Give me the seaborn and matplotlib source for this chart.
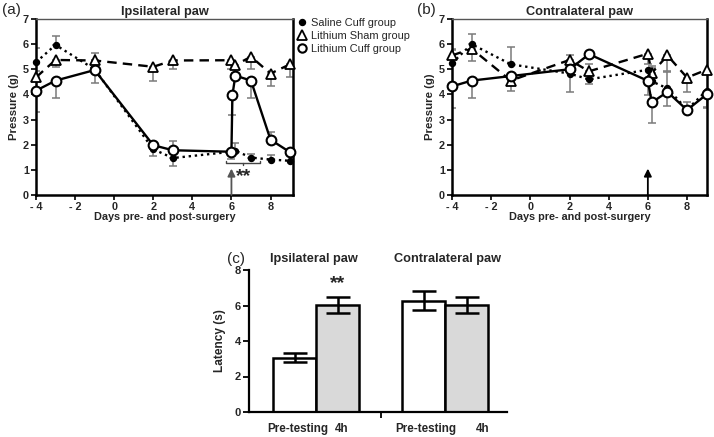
import matplotlib
matplotlib.use("Agg")
import matplotlib.pyplot as plt
from matplotlib.lines import Line2D
import numpy as np
import seaborn as sns

sns.set_theme(style="ticks")
plt.rcParams['font.family'] = ['Liberation Sans', 'DejaVu Sans']

# ---------------- data ----------------
days = [-4, -3, -1, 2, 3, 6, 6.2, 7, 8, 9]
days_cuff_a = [-4, -3, -1, 2, 3, 6, 6.05, 6.2, 7, 8, 9]

# Panel (a) Ipsilateral paw
saline_a = [5.28, 5.97, 5.0, 1.82, 1.47, 1.72, 1.76, 1.49, 1.41, 1.36]
saline_a_lo = [0, 0, 0, 0.25, 0.3, 0, 0, 0, 0, 0]
saline_a_hi = [0.55, 0.35, 0, 0, 0, 0, 0.3, 0.13, 0.2, 0]
sham_a = [4.68, 5.37, 5.35, 5.1, 5.35, 5.36, 5.17, 5.5, 4.83, 5.2]
sham_a_lo = [0, 0.26, 0, 0.55, 0.35, 0.35, 0.33, 0.5, 0.48, 0.5]
sham_a_hi = [0.25, 0, 0.28, 0, 0, 0, 0, 0, 0, 0]
cuff_a = [4.15, 4.55, 4.97, 1.98, 1.78, 1.72, 3.97, 4.75, 4.55, 2.2, 1.7]
cuff_a_lo = [0.85, 0.68, 0.5, 0, 0, 0.3, 0.78, 0, 0.7, 0, 0]
cuff_a_hi = [0, 0, 0, 0, 0.38, 0, 0, 0, 0, 0.3, 0]

# Panel (b) Contralateral paw
saline_b = [5.24, 6.0, 5.2, 4.83, 4.6, 4.98, 4.52, 4.24, 3.4, 4.15]
saline_b_lo = [0, 0, 0, 0, 0.18, 0, 0, 0, 0, 0.7]
saline_b_hi = [0.55, 0.42, 0.68, 0, 0, 0, 0.55, 0, 0, 0]
sham_b = [5.55, 5.82, 4.55, 5.37, 4.92, 5.62, 4.85, 5.55, 4.67, 4.98]
sham_b_lo = [0, 0.48, 0.42, 0, 0, 0.4, 0, 0.6, 0.57, 0]
sham_b_hi = [0.2, 0, 0, 0.2, 0.3, 0, 0.3, 0, 0, 0]
cuff_b = [4.32, 4.55, 4.73, 5.0, 5.6, 4.54, 3.68, 4.1, 3.38, 4.0]
cuff_b_lo = [0.85, 0.7, 0, 0.9, 0, 0.55, 0.82, 0.55, 0, 0.5]
cuff_b_hi = [0, 0, 0, 0, 0, 0, 0, 0.8, 0.3, 0]

# Panel (c) latency
bar_pos = [0, 1, 3, 4]
bar_group = ["Ipsi pre", "Ipsi 4h", "Contra pre", "Contra 4h"]
bar_vals = [3.07, 6.03, 6.27, 6.03]
bar_err = [0.23, 0.45, 0.52, 0.44]
bar_labels = ["Pre-testing", "4h", "Pre-testing", "4h"]

legend_labels = ["Saline Cuff group", "Lithium Sham group", "Lithium Cuff group"]

# ---------------- figure ----------------
W, H = 714, 437
fig = plt.figure(figsize=(W / 100, H / 100), dpi=100)
axA = fig.add_axes([36 / W, 1 - 195 / H, 257 / W, 176 / H])
axB = fig.add_axes([452 / W, 1 - 195 / H, 255 / W, 176 / H])
axC = fig.add_axes([249 / W, 1 - 412 / H, 258 / W, 142 / H])

ERR_COL = "#7a7a7a"


def draw_series(ax, x, y, lo, hi, ls, marker, mfc, ms, mew):
    x = np.asarray(x, float)
    y = np.asarray(y, float)
    lo = np.asarray(lo, float)
    hi = np.asarray(hi, float)
    m = lo > 0
    if m.any():
        ax.errorbar(x[m], y[m], yerr=[lo[m], np.zeros(m.sum())], fmt="none",
                    ecolor=ERR_COL, elinewidth=1.1, capsize=2.6, capthick=1.1, zorder=2)
    m = hi > 0
    if m.any():
        ax.errorbar(x[m], y[m], yerr=[np.zeros(m.sum()), hi[m]], fmt="none",
                    ecolor=ERR_COL, elinewidth=1.1, capsize=2.6, capthick=1.1, zorder=2)
    sns.lineplot(x=x, y=y, ax=ax, sort=False, color="black", linestyle=ls, lw=1.7,
                 marker=marker, markersize=ms, markerfacecolor=mfc,
                 markeredgecolor="black", markeredgewidth=mew, zorder=3, clip_on=False)


def style_line_axes(ax, xmax):
    ax.set_xlim(-4, xmax)
    ax.set_ylim(0, 7)
    ax.set_xticks([-4, -2, 0, 2, 4, 6, 8])
    ax.set_xticklabels(["- 4", "- 2", "0", "2", "4", "6", "8"])
    ax.set_yticks(range(0, 8))
    for s in ["left", "bottom", "right"]:
        ax.spines[s].set_linewidth(1.8)
        ax.spines[s].set_color("black")
    ax.spines["top"].set_linewidth(1.0)
    ax.spines["top"].set_color("#555555")
    ax.spines["top"].set_visible(True)
    ax.spines["right"].set_visible(True)
    ax.tick_params(axis="both", direction="out", length=3.5, width=1.2, pad=1.5,
                   labelsize=7.8, color="black")
    for lab in ax.get_xticklabels() + ax.get_yticklabels():
        lab.set_fontweight("bold")
    ax.set_ylabel("Pressure (g)", fontsize=8.2, fontweight="bold", labelpad=3)
    ax.set_xlabel("Days pre- and post-surgery", fontsize=7.8, fontweight="bold", labelpad=0)
    ax.grid(False)


for ax, sal, sal_lo, sal_hi, sh, sh_lo, sh_hi, cf, cf_lo, cf_hi, cfx in [
    (axA, saline_a, saline_a_lo, saline_a_hi, sham_a, sham_a_lo, sham_a_hi,
     cuff_a, cuff_a_lo, cuff_a_hi, days_cuff_a),
    (axB, saline_b, saline_b_lo, saline_b_hi, sham_b, sham_b_lo, sham_b_hi,
     cuff_b, cuff_b_lo, cuff_b_hi, days),
]:
    draw_series(ax, days, sh, sh_lo, sh_hi, (0, (4, 2.6)), "^", "white", 7.5, 1.3)
    draw_series(ax, days, sal, sal_lo, sal_hi, (0, (1, 1.6)), "o", "black", 4.3, 1.0)
    draw_series(ax, cfx, cf, cf_lo, cf_hi, "-", "o", "white", 7.0, 1.5)

style_line_axes(axA, 9.15)
style_line_axes(axB, 9.02)

axA.set_title("Ipsilateral paw", fontsize=9.2, fontweight="bold", pad=3)
axB.set_title("Contralateral paw", fontsize=9.2, fontweight="bold", pad=3)

# arrows
axA.annotate("", xy=(6, 1.05), xytext=(6, 0.0),
             arrowprops=dict(arrowstyle="-|>", color="#555555", lw=1.3, mutation_scale=11,
                             shrinkA=0, shrinkB=0))
axB.annotate("", xy=(6, 1.05), xytext=(6, 0.0),
             arrowprops=dict(arrowstyle="-|>", color="black", lw=1.3, mutation_scale=11,
                             shrinkA=0, shrinkB=0))
# bracket and stars in (a)
axA.plot([5.72, 5.72, 7.45, 7.45], [1.34, 1.27, 1.27, 1.34], color="#444444", lw=1.0)
axA.plot([6.6, 6.6], [1.27, 1.19], color="#444444", lw=1.0)
axA.text(6.62, 0.72, "**", fontsize=14, fontweight="bold", ha="center", va="center")

# legend
handles = [
    Line2D([], [], linestyle="none", marker="o", markersize=4.3, markerfacecolor="black",
           markeredgecolor="black"),
    Line2D([], [], linestyle="none", marker="^", markersize=7, markerfacecolor="white",
           markeredgecolor="black", markeredgewidth=1.3),
    Line2D([], [], linestyle="none", marker="o", markersize=6, markerfacecolor="white",
           markeredgecolor="black", markeredgewidth=1.5),
]
fig.legend(handles, legend_labels, loc="upper left", bbox_to_anchor=(297 / W, 1 - 18 / H),
           frameon=False, fontsize=7.9, handlelength=0.9, handletextpad=0.35,
           labelspacing=0.28, borderpad=0, borderaxespad=0)

# ---------------- panel (c) ----------------
sns.barplot(x=bar_pos, y=bar_vals, hue=bar_group, palette=["white", "#d9d9d9", "white", "#d9d9d9"],
            native_scale=True, width=1.0, dodge=False, edgecolor="black", linewidth=1.8,
            legend=False, errorbar=None, ax=axC, zorder=2)
axC.errorbar(bar_pos, bar_vals, yerr=bar_err, fmt="none", ecolor="black",
             elinewidth=1.8, capsize=8.5, capthick=1.8, zorder=3)
axC.set_xlim(-1.06, 4.94)
axC.set_ylim(0, 8)
axC.set_yticks([0, 2, 4, 6, 8])
axC.set_xticks([2])
axC.set_xticklabels([""])
for s in ["top", "right"]:
    axC.spines[s].set_visible(False)
for s in ["left", "bottom"]:
    axC.spines[s].set_linewidth(1.6)
    axC.spines[s].set_color("black")
axC.tick_params(axis="both", direction="out", length=4, width=1.3, labelsize=8, pad=2, color="black")
for lab in axC.get_yticklabels():
    lab.set_fontweight("bold")
axC.set_ylabel("Latency (s)", fontsize=8.6, fontweight="bold", labelpad=6)
axC.set_xlabel("")
axC.grid(False)

label_x = [0.08, 1.1, 3.05, 4.38]
for lx, lab in zip(label_x, bar_labels):
    axC.text(lx, -0.95, lab, ha="center", va="center", fontsize=8.4, fontweight="bold",
             clip_on=False)
axC.text(0.45, 8.62, "Ipsilateral paw", ha="center", va="center", fontsize=9.2,
         fontweight="bold", clip_on=False)
axC.text(3.55, 8.62, "Contralateral paw", ha="center", va="center", fontsize=9.2,
         fontweight="bold", clip_on=False)
axC.text(1.0, 7.25, "**", ha="center", va="center", fontsize=14, fontweight="bold",
         clip_on=False)

# panel letters
fig.text(2 / W, 1 - 10 / H, "(a)", fontsize=11, ha="left", va="center")
fig.text(417 / W, 1 - 10 / H, "(b)", fontsize=11, ha="left", va="center")
fig.text(227 / W, 1 - 259 / H, "(c)", fontsize=11, ha="left", va="center")

fig.savefig("out.png", dpi=100, facecolor="white")
